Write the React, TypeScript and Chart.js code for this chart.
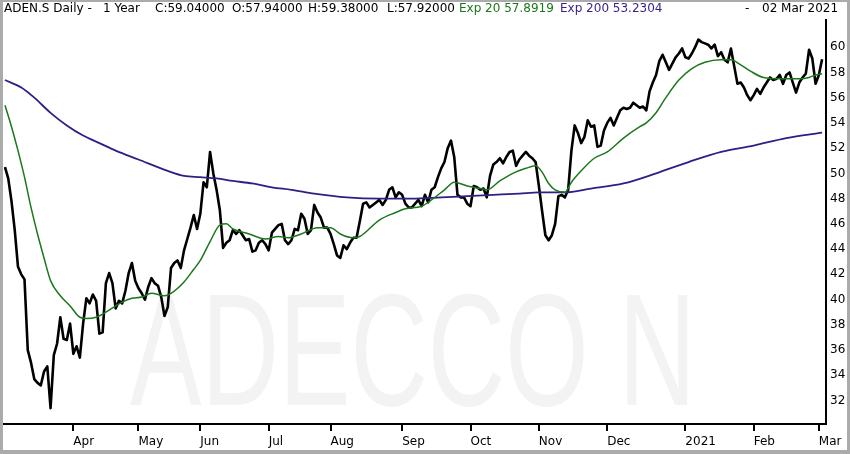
import React, { useEffect, useRef } from 'react';
import { Chart, registerables } from 'chart.js';

Chart.register(...registerables);

// Daily closes, 3 Mar 2020 .. 2 Mar 2021 (trading-day index 0..251)
const closeValues: number[] = [
  50.5, 49.6, 47.8, 45.5, 42.6, 42.0, 41.6, 36.0, 35.0, 33.7,
  33.4, 33.2, 34.3, 34.7, 31.4, 35.6, 36.5, 38.6, 36.9, 36.8,
  38.1, 35.7, 36.3, 35.4, 38.1, 40.1, 39.7, 40.4, 39.9, 37.3,
  37.4, 41.3, 42.1, 41.3, 39.3, 39.9, 39.7, 40.7, 42.1, 42.9,
  41.5, 40.9, 40.5, 40.0, 41.0, 41.7, 41.3, 41.1, 40.2, 38.7,
  39.4, 42.5, 42.9, 43.1, 42.5, 43.9, 44.8, 45.7, 46.7, 45.6,
  46.8, 49.3, 48.9, 51.7, 50.0, 48.7, 47.1, 44.1, 44.5, 44.7,
  45.5, 45.2, 45.5, 45.1, 44.7, 44.8, 43.8, 43.9, 44.5, 44.7,
  44.4, 43.9, 45.3, 45.6, 45.9, 46.0, 44.7, 44.4, 44.7, 45.6,
  45.5, 46.8, 46.4, 45.2, 45.5, 47.5, 46.9, 46.5, 45.7, 45.7,
  45.2, 44.4, 43.5, 43.3, 44.3, 44.0, 44.5, 44.9, 44.9, 46.2,
  47.6, 47.7, 47.3, 47.5, 47.7, 47.9, 47.5, 47.9, 48.7, 48.9,
  48.1, 48.5, 48.3, 47.6, 47.3, 47.3, 47.6, 47.9, 47.4, 48.3,
  47.7, 48.7, 48.9, 49.7, 50.4, 50.9, 52.0, 52.6, 51.3, 48.3,
  48.1, 48.1, 47.6, 47.4, 49.0, 48.9, 48.7, 48.8, 48.1, 49.8,
  50.7, 50.9, 51.2, 50.8, 51.3, 51.7, 51.8, 50.6, 51.1, 51.4,
  51.7, 51.4, 51.2, 50.9, 49.0, 47.0, 45.1, 44.7, 45.1, 46.0,
  48.2, 48.3, 48.1, 48.7, 51.8, 53.8, 53.2, 52.4, 52.9, 54.2,
  53.7, 53.8, 52.1, 52.2, 53.4, 54.0, 54.4, 53.8, 54.4, 55.0,
  55.2, 55.1, 55.2, 55.6, 55.4, 55.2, 55.3, 55.0, 56.5, 57.2,
  57.8, 58.9, 59.4, 58.8, 58.2, 58.7, 59.2, 59.5, 59.9, 59.2,
  59.1, 59.5, 60.0, 60.6, 60.4, 60.3, 60.2, 59.9, 60.2, 59.3,
  59.6, 59.0, 58.8, 59.9, 58.5, 57.1, 57.2, 56.8, 56.2, 55.8,
  56.2, 56.7, 56.3, 56.8, 57.2, 57.6, 57.4, 57.5, 57.8, 57.1,
  57.8, 58.0, 57.2, 56.4, 57.2, 57.6, 57.9, 59.8, 59.1, 57.1,
  57.8, 59.04,
];

// Exponential moving average 20 (read at these trading-day indices)
const ema20Index: number[] = [
  0, 2, 4, 6, 8, 10, 12, 14, 17, 20, 23, 25, 28, 31, 34, 36, 39, 42, 45, 49,
  51, 55, 58, 60, 63, 66, 68, 70, 75, 80, 84, 87, 91, 96, 100, 103, 107, 109, 115, 120,
  123, 128, 131, 135, 138, 142, 146, 148, 152, 156, 160, 163, 165, 167, 169, 172, 174, 177, 181, 185,
  190, 195, 197, 200, 203, 207, 211, 215, 220, 223, 226, 229, 233, 238, 244, 247, 249, 251,
];
const ema20Values: number[] = [
  55.4, 53.7, 51.8, 49.7, 47.3, 45.2, 43.3, 41.5, 40.3, 39.5, 38.6, 38.5, 38.6, 39.0, 39.5, 39.8, 40.1, 40.2, 40.5, 40.3,
  40.5, 41.4, 42.4, 43.1, 44.6, 45.9, 46.0, 45.6, 45.2, 44.8, 45.0, 44.9, 45.2, 45.7, 45.7, 45.2, 44.9, 45.0, 46.3, 46.9,
  47.2, 47.4, 47.9, 48.7, 49.3, 49.0, 48.8, 48.7, 49.4, 50.0, 50.4, 50.6, 50.1, 49.2, 48.7, 48.5, 49.3, 50.2, 51.2, 51.7,
  52.8, 53.7, 54.0, 54.8, 56.0, 57.4, 58.3, 58.8, 59.0, 59.0, 58.6, 58.1, 57.6, 57.5, 57.5, 57.6, 57.8, 57.89,
];

// Exponential moving average 200
const ema200Index: number[] = [
  0, 5, 9, 14, 19, 24, 29, 34, 41, 50, 55, 60, 65, 70, 76, 82, 88, 95, 105, 115,
  125, 134, 142, 150, 158, 164, 172, 180, 190, 200, 210, 220, 230, 240, 251,
];
const ema200Values: number[] = [
  57.4, 56.8, 56.0, 54.8, 53.8, 53.0, 52.4, 51.8, 51.1, 50.2, 49.8, 49.7, 49.6, 49.4, 49.2, 48.9, 48.7, 48.4, 48.1, 48.0,
  48.0, 48.1, 48.2, 48.3, 48.4, 48.5, 48.5, 48.8, 49.2, 50.0, 50.9, 51.7, 52.2, 52.8, 53.23,
];

const monthTickIndex: number[] = [21, 41, 60, 81, 100, 122, 143, 164, 185, 209, 230, 250];
const monthTickLabels: string[] = ['Apr', 'May', 'Jun', 'Jul', 'Aug', 'Sep', 'Oct', 'Nov', 'Dec', '2021', 'Feb', 'Mar'];
const priceTicks: number[] = [32, 34, 36, 38, 40, 42, 44, 46, 48, 50, 52, 54, 56, 58, 60];

const FONT = '"DejaVu Sans", sans-serif';
const GREEN = '#1b771b';
const PURPLE = '#2d1f86';

export default function App() {
  const ref = useRef<HTMLCanvasElement | null>(null);

  useEffect(() => {
    if (!ref.current) return;
    const chart = new Chart(ref.current, {
      type: 'line',
      data: {
        datasets: [
          {
            label: 'Exp 20',
            data: ema20Index.map((x, i) => ({ x, y: ema20Values[i] })),
            borderColor: GREEN,
            borderWidth: 1.5,
            pointRadius: 0,
            cubicInterpolationMode: 'monotone',
            order: 1,
          },
          {
            label: 'Exp 200',
            data: ema200Index.map((x, i) => ({ x, y: ema200Values[i] })),
            borderColor: PURPLE,
            borderWidth: 1.8,
            pointRadius: 0,
            cubicInterpolationMode: 'monotone',
            order: 2,
          },
          {
            label: 'ADEN.S',
            data: closeValues.map((y, x) => ({ x, y })),
            borderColor: '#000000',
            borderWidth: 2.6,
            pointRadius: 0,
            tension: 0,
            borderJoinStyle: 'round',
            order: 3,
          },
        ],
      },
      options: {
        responsive: false,
        animation: false,
        devicePixelRatio: 1,
        layout: { padding: { left: 4, top: 20, right: 0, bottom: 0 } },
        plugins: { legend: { display: false }, tooltip: { enabled: false }, title: { display: false } },
        scales: {
          x: {
            type: 'linear',
            position: 'bottom',
            min: -0.3,
            max: 252.2,
            afterBuildTicks: (s: any) => {
              s.ticks = monthTickIndex.map((v) => ({ value: v }));
            },
            afterFit: (s: any) => {
              s.height = 30;
            },
            ticks: {
              autoSkip: false,
              maxRotation: 0,
              minRotation: 0,
              align: 'start',
              padding: 4,
              color: '#000',
              font: { family: FONT, size: 12 },
              callback: (_v: any, i: number) => monthTickLabels[i],
            },
            grid: { drawOnChartArea: false, drawTicks: true, tickLength: 7, color: '#000', lineWidth: 2 },
            border: { display: true, color: '#000', width: 2 },
          },
          y: {
            type: 'linear',
            position: 'right',
            min: 30.14,
            max: 62.155,
            afterBuildTicks: (s: any) => {
              s.ticks = priceTicks.map((v) => ({ value: v }));
            },
            afterFit: (s: any) => {
              s.width = 24;
            },
            ticks: {
              padding: 4,
              color: '#000',
              font: { family: FONT, size: 12 },
              callback: (v: any) => String(v),
            },
            grid: { drawOnChartArea: false, drawTicks: false, color: 'rgba(0,0,0,0)' },
            border: { display: true, color: '#000', width: 2 },
          },
        },
      },
    } as any);
    return () => chart.destroy();
  }, []);

  const txt: React.CSSProperties = {
    position: 'absolute',
    top: 0,
    fontFamily: FONT,
    fontSize: 12,
    lineHeight: '16px',
    whiteSpace: 'pre',
    color: '#000',
  };

  return (
    <div
      style={{
        position: 'fixed',
        left: 0,
        top: 0,
        width: 850,
        height: 454,
        background: '#ffffff',
        overflow: 'hidden',
        fontFamily: FONT,
      }}
    >
      <div
        style={{
          position: 'absolute',
          left: 130,
          top: 270,
          fontFamily: '"Liberation Sans", sans-serif',
          fontSize: 160,
          lineHeight: '160px',
          color: '#f3f3f3',
          whiteSpace: 'pre',
          transform: 'scaleX(0.67)',
          transformOrigin: 'left top',
        }}
      >
        ADECCO N
      </div>
      <canvas ref={ref} width={850} height={454} style={{ position: 'absolute', left: 0, top: 0, width: 850, height: 454 }} />
      <span style={{ ...txt, left: 4 }}>ADEN.S Daily -</span>
      <span style={{ ...txt, left: 103 }}>1 Year</span>
      <span style={{ ...txt, left: 155 }}>C:59.04000</span>
      <span style={{ ...txt, left: 232 }}>O:57.94000</span>
      <span style={{ ...txt, left: 308 }}>H:59.38000</span>
      <span style={{ ...txt, left: 387 }}>L:57.92000</span>
      <span style={{ ...txt, left: 459, color: GREEN }}>Exp 20 57.8919</span>
      <span style={{ ...txt, left: 560, color: '#3b1d8c' }}>Exp 200 53.2304</span>
      <span style={{ ...txt, left: 745 }}>-</span>
      <span style={{ ...txt, left: 762 }}>02 Mar 2021</span>
      <div
        style={{
          position: 'absolute',
          left: 0,
          top: 0,
          width: 850,
          height: 454,
          boxSizing: 'border-box',
          borderStyle: 'solid',
          borderColor: '#ababab',
          borderWidth: '2px 3px 4px 3px',
          pointerEvents: 'none',
        }}
      />
    </div>
  );
}
